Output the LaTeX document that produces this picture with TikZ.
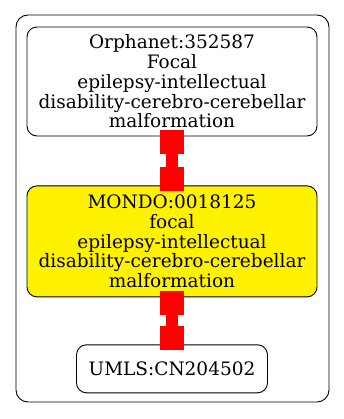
\documentclass[tikz,border=0pt]{standalone}
\usepackage{fontspec}
\setmainfont{DejaVu Serif}
\usetikzlibrary{positioning,arrows.meta}

\tikzset{
	term/.style={draw, line width=0.9pt, rounded corners=10pt, align=center, inner sep=0pt,
		minimum width=290pt, font=\fontsize{18.5}{19.8}\selectfont},
	link/.style={draw=red, line width=12pt,
		{Square[length=24pt,width=24pt,line width=0pt]}-{Square[length=24pt,width=24pt,line width=0pt]},
		shorten <=-6pt, shorten >=-6pt},
}

\begin{document}
\begin{tikzpicture}[x=1pt,y=1pt]
	\useasboundingbox (0,0) rectangle (344,-419);
	\draw[line width=0.9pt, rounded corners=12pt] (16,-15) rectangle (329,-402);

	\node[term, minimum height=109pt] (orpha) at (172,-81.5)
		{Orphanet:352587\\Focal\\epilepsy-intellectual\\disability-cerebro-cerebellar\\malformation};
	\node[term, fill=yellow, minimum height=111pt, below=49pt of orpha] (mondo)
		{MONDO:0018125\\focal\\epilepsy-intellectual\\disability-cerebro-cerebellar\\malformation};
	\node[term, minimum width=191pt, minimum height=48pt, below=47pt of mondo] (umls)
		{UMLS:CN204502};

	\draw[link] (orpha) -- (mondo);
	\draw[link] (mondo) -- (umls);
\end{tikzpicture}
\end{document}
